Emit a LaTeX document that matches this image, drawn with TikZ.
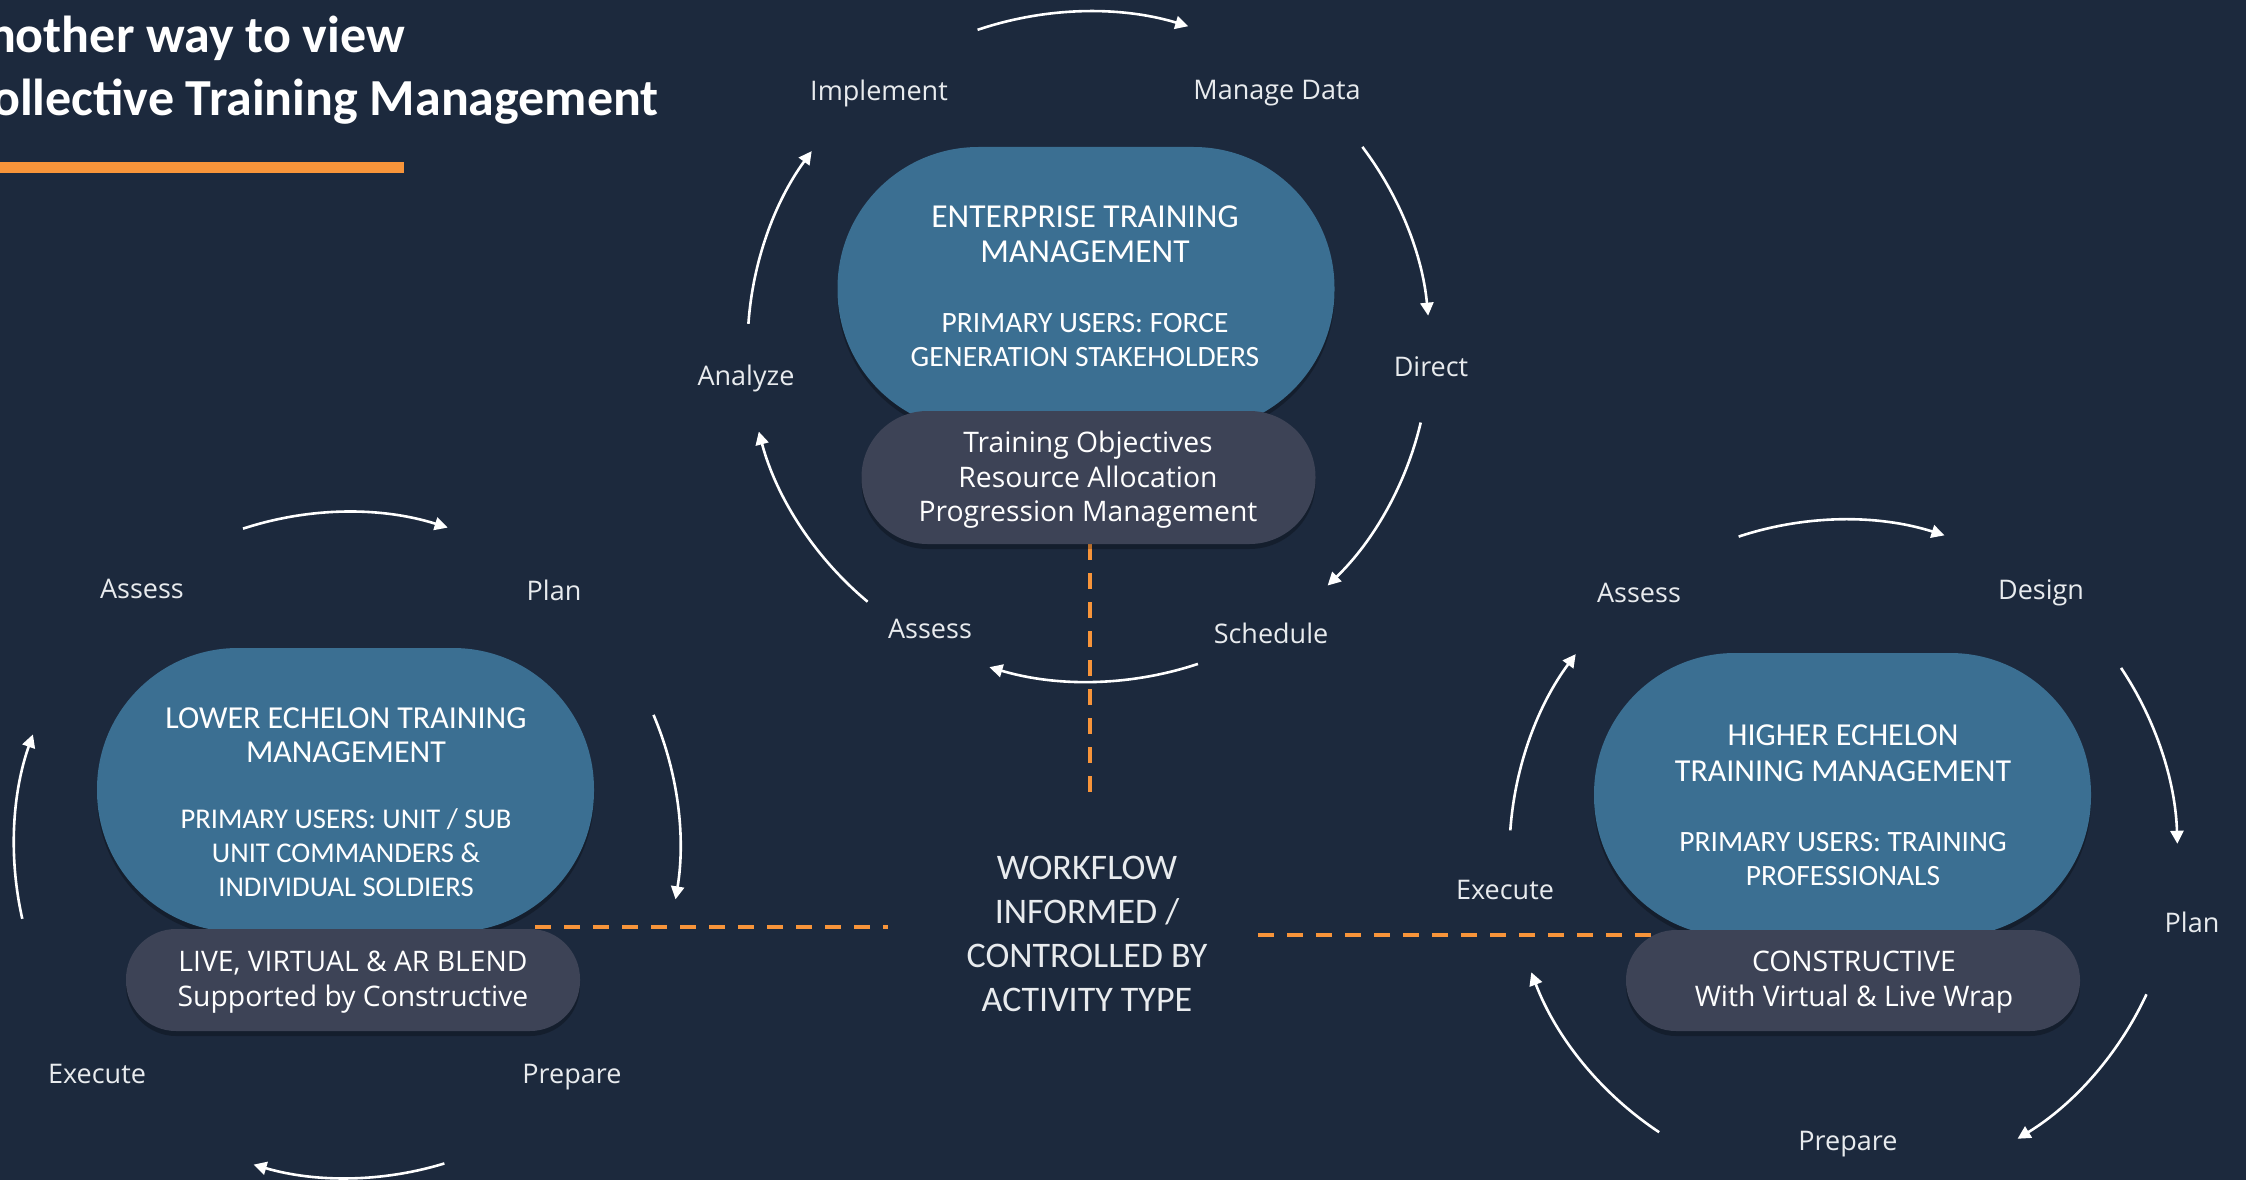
\documentclass[tikz,border=0pt]{standalone}
\usepackage{fontspec}
\setmainfont{Open Sans}
\newfontfamily\calfont{Carlito}
\usetikzlibrary{arrows.meta,shadows}
\definecolor{bgc}{HTML}{1C293D}
\definecolor{pillblue}{HTML}{3B6F92}
\definecolor{pilldark}{HTML}{3D4356}
\definecolor{orng}{HTML}{F7943A}
\definecolor{lblc}{HTML}{E8EBEE}
\pgfdeclarelayer{back}
\pgfdeclarelayer{lines}
\pgfsetlayers{back,lines,main}
\begin{document}
\begin{tikzpicture}[x=1pt,y=-1pt,
  lbl/.style={text=lblc, font=\fontsize{27}{32}\selectfont, inner sep=0pt},
  arr/.style={draw=white, line width=2.6pt, -{Triangle[length=13pt,width=13pt]}},
  pillshadow/.style={drop shadow={opacity=0.25, shadow xshift=0pt, shadow yshift=-5pt, fill=black}},
  bluepill/.style={fill=pillblue, minimum width=497pt, minimum height=284pt, rounded corners=141pt, inner sep=0pt, pillshadow},
  darkpill/.style={fill=pilldark, minimum width=454pt, inner sep=0pt, pillshadow},
  headtxt/.style={text=white, align=center, inner sep=0pt, font=\calfont\fontsize{33.5}{35}\selectfont},
  usertxt/.style={text=white, align=center, inner sep=0pt, font=\calfont\fontsize{29.5}{34.5}\selectfont},
  darktxt/.style={text=white, align=center, inner sep=0pt, font=\fontsize{28.3}{34.5}\selectfont},
  odash/.style={draw=orng, line width=4pt, dash pattern=on 16pt off 13pt},
  titletxt/.style={text=white, inner sep=0pt, font=\calfont\bfseries\fontsize{52}{60}\selectfont}
]
\useasboundingbox (0,0) rectangle (2246,1180);
\begin{pgfonlayer}{back}
  \fill[bgc] (0,0) rectangle (2246,1180);
\end{pgfonlayer}

% title
\node[titletxt, anchor=base east] (t1) at (405,53) {nother way to view};
\node[titletxt, anchor=base east] (t2) at (659,116) {ollective Training Management};
\fill[orng] (0,162) rectangle (404,173);

% ---------- top cycle ----------
\node[bluepill] (etm) at (1086,289) {};
\node[darkpill, minimum height=133pt, rounded corners=66pt] (etmd) at (1088.5,477.5) {};
\node[headtxt] (etmh) at (1085,234) {ENTERPRISE TRAINING\\MANAGEMENT};
\node[usertxt] (etmu) at (1085,340) {PRIMARY USERS: FORCE\\GENERATION STAKEHOLDERS};
\node[darktxt] (etmdt) at (1088,480) {Training Objectives\\Resource Allocation\\Progression Management};

\coordinate (cT) at (1088.6,346.6);
\draw[arr] ([shift={(-109:341 and 335)}]cT) arc[start angle=-109, end angle=-73, x radius=341, y radius=335];
\draw[arr] ([shift={(-36.6:341 and 335)}]cT) arc[start angle=-36.6, end angle=-5.3, x radius=341, y radius=335];
\draw[arr] ([shift={(13.1:341 and 335)}]cT) arc[start angle=13.1, end angle=45.5, x radius=341, y radius=335];
\draw[arr] ([shift={(71.3:341 and 335)}]cT) arc[start angle=71.3, end angle=106.9, x radius=341, y radius=335];
\draw[arr] ([shift={(130.4:341 and 335)}]cT) arc[start angle=130.4, end angle=165.3, x radius=341, y radius=335];
\draw[arr] ([shift={(183.9:341 and 335)}]cT) arc[start angle=183.9, end angle=215.7, x radius=341, y radius=335];

\node[lbl] (implement) at (879,93) {Implement};
\node[lbl] (managedata) at (1277,93) {Manage Data};
\node[lbl] (direct) at (1431,367) {Direct};
\node[lbl] (schedule) at (1271,633) {Schedule};
\node[lbl] (assessT) at (930,629) {Assess};
\node[lbl] (analyze) at (746,378) {Analyze};

% ---------- left cycle ----------
\node[bluepill] (letm) at (345.5,790) {};
\node[darkpill, minimum height=102pt, rounded corners=50pt] (letmd) at (353,980) {};
\node[headtxt, font=\calfont\fontsize{32}{33.5}\selectfont] (letmh) at (346,735) {LOWER ECHELON TRAINING\\MANAGEMENT};
\node[usertxt, font=\calfont\fontsize{28.6}{34}\selectfont] (letmu) at (346,853) {PRIMARY USERS: UNIT / SUB\\UNIT COMMANDERS \&\\INDIVIDUAL SOLDIERS};
\node[darktxt] (letmdt) at (353,982) {LIVE, VIRTUAL \& AR BLEND\\Supported by Constructive};

\coordinate (cL) at (347,845);
\draw[arr] ([shift={(-108.2:333)}]cL) arc[start angle=-108.2, end angle=-72.4, radius=333];
\draw[arr] ([shift={(-23:333)}]cL) arc[start angle=-23, end angle=9.4, radius=333];
\draw[arr] ([shift={(73:333)}]cL) arc[start angle=73, end angle=106.3, radius=333];
\draw[arr] ([shift={(167.2:333)}]cL) arc[start angle=167.2, end angle=199.4, radius=333];

\node[lbl] (assessL) at (142,589) {Assess};
\node[lbl] (planL) at (554,590) {Plan};
\node[lbl] (prepareL) at (572,1077) {Prepare};
\node[lbl] (executeL) at (97,1074) {Execute};

% ---------- right cycle ----------
\node[bluepill] (hetm) at (1842.5,795) {};
\node[darkpill, minimum height=101pt, rounded corners=50pt] (hetmd) at (1853,980.5) {};
\node[headtxt, font=\calfont\fontsize{32}{35.5}\selectfont] (hetmh) at (1843,753) {HIGHER ECHELON\\TRAINING MANAGEMENT};
\node[usertxt] (hetmu) at (1843,859) {PRIMARY USERS: TRAINING\\PROFESSIONALS};
\node[darktxt] (hetmdt) at (1854,982) {CONSTRUCTIVE\\With Virtual \& Live Wrap};

\coordinate (cR) at (1843.5,853.7);
\draw[arr] ([shift={(-108.3:334)}]cR) arc[start angle=-108.3, end angle=-72.4, radius=334];
\draw[arr] ([shift={(-33.8:334)}]cR) arc[start angle=-33.8, end angle=-1.7, radius=334];
\draw[arr] ([shift={(24.9:334)}]cR) arc[start angle=24.9, end angle=58.6, radius=334];
\draw[arr] ([shift={(123.5:334)}]cR) arc[start angle=123.5, end angle=159.2, radius=334];
\draw[arr] ([shift={(184:334)}]cR) arc[start angle=184, end angle=216.7, radius=334];

\node[lbl] (assessR) at (1639,593) {Assess};
\node[lbl] (design) at (2041,593) {Design};
\node[lbl] (planR) at (2192,922) {Plan};
\node[lbl] (prepareR) at (1848,1144) {Prepare};
\node[lbl] (executeR) at (1505,890) {Execute};

% ---------- centre text ----------
\node[text=lblc, align=center, inner sep=0pt, font=\calfont\fontsize{36}{44}\selectfont] (workflow) at (1087,934)
  {WORKFLOW\\INFORMED /\\CONTROLLED BY\\ACTIVITY TYPE};

% ---------- dashed connectors ----------
\coordinate (vEnd) at (1090,795);
\coordinate (lStart) at (535,927);
\coordinate (lEnd) at (888,927);
\coordinate (rStart) at (1258,935);
\coordinate (rEnd) at (1700,935);
\begin{pgfonlayer}{lines}
  \draw[odash] (etmd.south -| vEnd) -- (vEnd);
  \draw[odash] (lStart) -- (lEnd);
  \draw[odash] (rStart) -- (rEnd);
\end{pgfonlayer}
\end{tikzpicture}
\end{document}
